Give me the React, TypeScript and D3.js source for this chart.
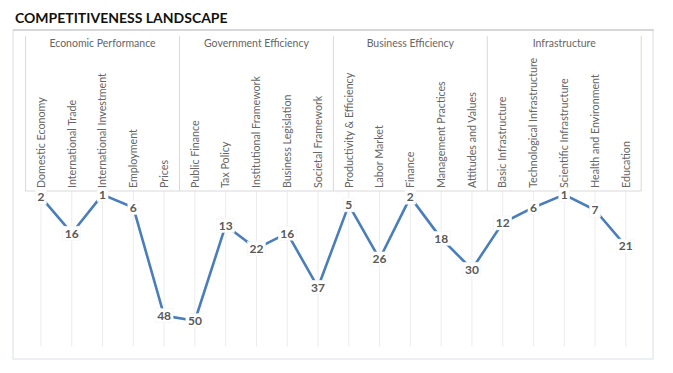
import React from 'react';
import * as d3 from 'd3';

// pillars and their factors, ranks
const groups = ['Economic Performance', 'Government Efficiency', 'Business Efficiency', 'Infrastructure'];
const factors = [
  'Domestic Economy', 'International Trade', 'International Investment', 'Employment', 'Prices',
  'Public Finance', 'Tax Policy', 'Institutional Framework', 'Business Legislation', 'Societal Framework',
  'Productivity & Efficiency', 'Labor Market', 'Finance', 'Management Practices', 'Attitudes and Values',
  'Basic Infrastructure', 'Technological Infrastructure', 'Scientific Infrastructure', 'Health and Environment', 'Education',
];
const ranks = [2, 16, 1, 6, 48, 50, 13, 22, 16, 37, 5, 26, 2, 18, 30, 12, 6, 1, 7, 21];

const W = 673;
const H = 373;
const font = 'Lato, "Open Sans", sans-serif';

export default function App() {
  const x = d3.scaleBand<string>().domain(factors).range([25.6, 641.2]);
  const xg = d3.scaleBand<string>().domain(groups).range([25.6, 641.2]);
  const y = d3.scaleLinear().domain([0, 60]).range([192, 346.5]);
  const cx = (f: string) => (x(f) ?? 0) + x.bandwidth() / 2;

  const line = d3
    .line<number>()
    .x((_, i) => cx(factors[i]))
    .y((d) => y(d));

  const headTop = 36;
  const headBottom = 191;

  return (
    <svg width={W} height={H} style={{ position: 'absolute', left: 0, top: 0, background: '#fff' }}>
      <text x={15} y={23} fontFamily={font} fontWeight={700} fontSize={14} fill="#111">
        COMPETITIVENESS LANDSCAPE
      </text>
      {/* frame */}
      <rect x={13} y={30} width={640} height={329} fill="none" stroke="#d9dfe8" strokeWidth={1} />
      <line x1={13} x2={654} y1={30} y2={30} stroke="#bfbfbf" strokeWidth={1.2} />

      {/* gridlines */}
      {factors.map((f) => (
        <line key={f} x1={cx(f)} x2={cx(f)} y1={headBottom} y2={y(60)} stroke="#ececec" strokeWidth={1} />
      ))}

      {/* header */}
      <line x1={25.6} x2={641.2} y1={headBottom} y2={headBottom} stroke="#d9d9d9" />
      {[...groups.map((g) => xg(g) ?? 0), 641.2].map((gx, i) => (
        <line key={i} x1={gx} x2={gx} y1={headTop} y2={headBottom} stroke="#d9d9d9" />
      ))}
      {groups.map((g) => (
        <text
          key={g}
          x={(xg(g) ?? 0) + xg.bandwidth() / 2}
          y={47}
          textAnchor="middle"
          fontFamily={font}
          fontSize={10.5}
          fill="#666"
        >
          {g}
        </text>
      ))}
      {factors.map((f) => (
        <text
          key={f}
          transform={`translate(${cx(f)},${188}) rotate(-90)`}
          dy="0.35em"
          fontFamily={font}
          fontSize={10.7}
          fill="#666"
        >
          {f}
        </text>
      ))}

      <path d={line(ranks) ?? ''} fill="none" stroke="#4a7ebb" strokeWidth={2.6} strokeLinejoin="round" />

      {ranks.map((r, i) => {
        const w = String(r).length * 7 + 4;
        return (
          <g key={i} transform={`translate(${cx(factors[i])},${y(r)})`}>
            <rect x={-w / 2} y={-7} width={w} height={14} fill="#fff" stroke="#f2f2f2" strokeWidth={0.5} />
            <text textAnchor="middle" dy="0.36em" fontFamily={font} fontWeight={700} fontSize={12} fill="#595959">
              {r}
            </text>
          </g>
        );
      })}
    </svg>
  );
}
